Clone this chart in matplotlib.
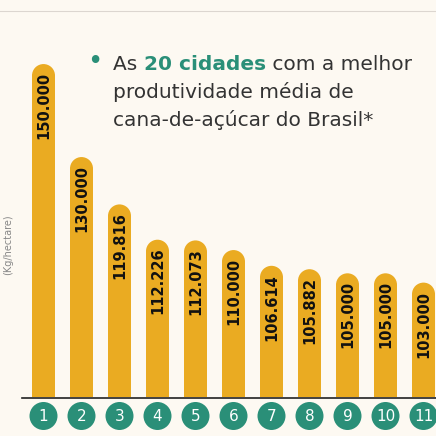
import matplotlib
matplotlib.use("Agg")
import matplotlib.pyplot as plt
from matplotlib.patches import Ellipse, Circle

ranks = list(range(1, 12))
values = [150000, 130000, 119816, 112226, 112073, 110000, 106614, 105882, 105000, 105000, 103000]
labels = ["150.000", "130.000", "119.816", "112.226", "112.073", "110.000", "106.614", "105.882", "105.000", "105.000", "103.000"]

BG = "#fdf9f2"; ORANGE = "#eaab22"; GREEN = "#2a8f78"
fig = plt.figure(figsize=(4.36, 4.36), dpi=100, facecolor=BG)
ax = fig.add_axes([0, 0, 1, 1]); ax.set_facecolor(BG); ax.axis("off")
ppx = 38.0; ppy = 4.65 / 1000
x0 = 1 - 43.5 / ppx; x1 = 1 + (436 - 43.5) / ppx
base = 78400
ymax = base + 397 / ppy; ymin = base - 39 / ppy
ax.set_xlim(x0, x1); ax.set_ylim(ymin, ymax)

w = 23 / ppx; r = 11.5 / ppy
for i, v, lab in zip(ranks, values, labels):
    ax.bar(i, v - r - base, bottom=base, width=w, color=ORANGE, linewidth=0)
    ax.add_patch(Ellipse((i, v - r), w, 2 * r, color=ORANGE, linewidth=0))
    ax.text(i, v - 8 / ppy, lab, rotation=90, ha="center", va="top",
            fontsize=10.5, fontweight="bold", color="#111111")
    ax.add_patch(Ellipse((i, base - 19 / ppy), 28 / ppx, 28 / ppy, color=GREEN, linewidth=0))
    ax.text(i, base - 19.5 / ppy, str(i), ha="center", va="center", fontsize=11, color="white")

ax.plot([x0 + 22 / ppx, x1], [base - 0.5 / ppy] * 2, color="#222222", lw=1.2)
fig.add_artist(plt.Line2D([0, 1], [1 - 11 / 436] * 2, color="#dcd6d0", lw=0.8))
fig.text(8 / 436, 1 - 245 / 436, "(Kg/hectare)", rotation=90, ha="center", va="center",
         fontsize=7, color="#888888")

fs = 14.5; dark = "#333333"
fig.text(95 / 436, 1 - 62 / 436, "•", fontsize=fs + 4, color=GREEN, ha="center", va="center")
fig.canvas.draw()
rend = fig.canvas.get_renderer()
xs = 113 / 436; yb = 1 - 70 / 436
t1 = fig.text(xs, yb, "As ", fontsize=fs, color=dark, va="baseline")
e = t1.get_window_extent(rend)
t2 = fig.text(e.x1 / 436, yb, "20 cidades", fontsize=fs, color=GREEN, fontweight="bold", va="baseline")
e = t2.get_window_extent(rend)
fig.text(e.x1 / 436, yb, " com a melhor", fontsize=fs, color=dark, va="baseline")
fig.text(xs, yb - 28 / 436, "produtividade média de", fontsize=fs, color=dark, va="baseline")
fig.text(xs, yb - 56 / 436, "cana-de-açúcar do Brasil*", fontsize=fs, color=dark, va="baseline")

fig.savefig("out.png", dpi=100, facecolor=BG)
